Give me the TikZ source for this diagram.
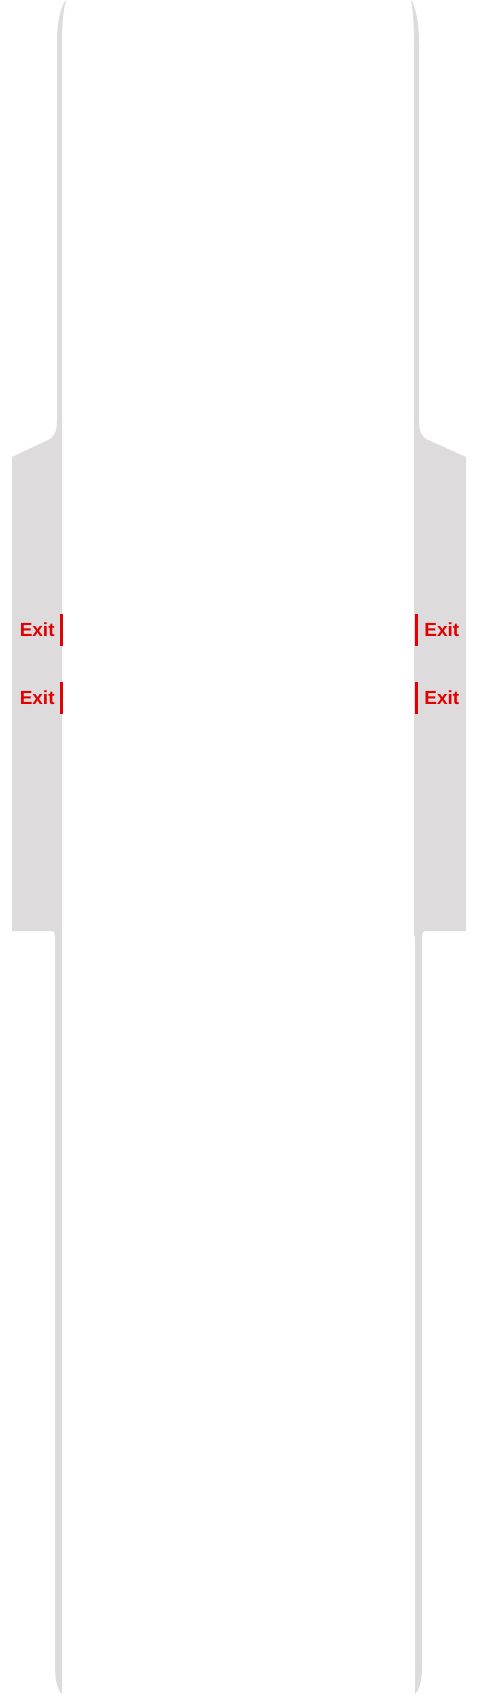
\documentclass[tikz,border=0pt]{standalone}
\usepackage{fontspec}
\setmainfont{Liberation Sans}
\usetikzlibrary{positioning}
\definecolor{railgray}{RGB}{220,220,220}
\definecolor{lobbygray}{RGB}{221,219,219}
\definecolor{exitred}{RGB}{228,0,0}

\begin{document}
\begin{tikzpicture}[x=1pt, y=-1pt,
  rail/.style={fill=railgray, draw=none},
  lobby/.style={fill=lobbygray, draw=none},
  exitbar/.style={fill=exitred, draw=none, inner sep=0pt, minimum width=3pt, minimum height=32pt},
  exitlbl/.style={text=exitred, font=\fontsize{19}{19}\selectfont\bfseries, inner sep=0pt},
]
\fill[white] (0,0) rectangle (480,1697);
\useasboundingbox (0,0) rectangle (480,1697);

% side lobbies
\fill[lobby] (62,421) -- (57,421) .. controls (57,432) and (54,436) .. (50,439)
  -- (12,457) -- (12,931) -- (52,931) .. controls (54,931) and (55,933) .. (55,936)
  -- (62,936) -- cycle;
\fill[lobby] (414,421) -- (419,421) .. controls (419,432) and (422,436) .. (426,439)
  -- (466,457) -- (466,931) -- (425,931) .. controls (423,931) and (422,933) .. (422,936)
  -- (414,936) -- cycle;

% corridor walls
\fill[rail] (65,1) .. controls (59,12) and (57,25) .. (57,45) -- (57,421)
  -- (62,421) -- (62,45) .. controls (62,25) and (63,10) .. (66,1) -- cycle;
\fill[rail] (55,936) -- (55,1665) .. controls (55,1680) and (57,1689) .. (62,1694)
  -- (62,936) -- cycle;
\fill[rail] (412,1) .. controls (417,12) and (419,25) .. (419,45) -- (419,421)
  -- (414,421) -- (414,45) .. controls (414,25) and (413,10) .. (411,1) -- cycle;
\fill[rail] (422,936) -- (422,1665) .. controls (422,1680) and (420,1689) .. (415,1694)
  -- (415,936) -- cycle;

% exits
\foreach \n/\y in {1/630,2/698}{
  \node[exitbar] (barL\n) at (61.5,\y) {};
  \node[exitlbl, left=5pt of barL\n] (exitL\n) {Exit};
  \node[exitbar] (barR\n) at (416.5,\y) {};
  \node[exitlbl, right=6pt of barR\n] (exitR\n) {Exit};
}
\end{tikzpicture}
\end{document}
